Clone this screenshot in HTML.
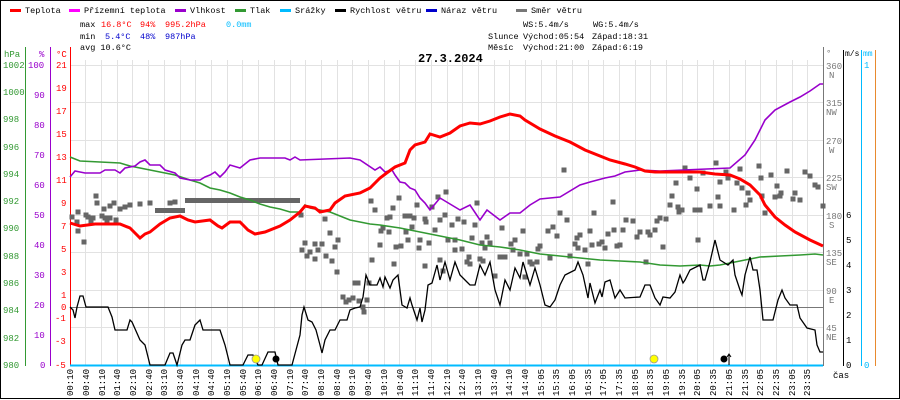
<!DOCTYPE html>
<html><head><meta charset="utf-8"><style>
body{margin:0;background:#fff}
svg{display:block;font-family:"Liberation Mono",monospace}
</style></head><body>
<svg width="900" height="400" viewBox="0 0 900 400" xmlns="http://www.w3.org/2000/svg">
<rect x="0.5" y="0.5" width="899" height="398" fill="#fff" stroke="#000"/>
<g stroke="#e2e2e2" stroke-width="1">
<path d="M70 65.5H823M70 102.5H823M70 140.5H823M70 177.5H823M70 215.5H823M70 252.5H823M70 290.5H823M70 327.5H823"/>
<path d="M85.5 60V366M101.5 60V366M117.5 60V366M132.5 60V366M148.5 60V366M164.5 60V366M180.5 60V366M195.5 60V366M211.5 60V366M227.5 60V366M242.5 60V366M258.5 60V366M274.5 60V366M290.5 60V366M305.5 60V366M321.5 60V366M337.5 60V366M352.5 60V366M368.5 60V366M384.5 60V366M399.5 60V366M415.5 60V366M431.5 60V366M447.5 60V366M462.5 60V366M478.5 60V366M494.5 60V366M509.5 60V366M525.5 60V366M541.5 60V366M556.5 60V366M572.5 60V366M588.5 60V366M603.5 60V366M619.5 60V366M635.5 60V366M650.5 60V366M666.5 60V366M682.5 60V366M697.5 60V366M713.5 60V366M729.5 60V366M745.5 60V366M760.5 60V366M776.5 60V366M792.5 60V366M807.5 60V366"/>
</g>
<line x1="70" y1="307.5" x2="823" y2="307.5" stroke="#777"/>
<g font-size="8.5" fill="#000">
<rect x="10" y="9" width="11" height="3" fill="#f00"/><text x="25" y="13">Teplota</text>
<rect x="69" y="9" width="11" height="3" fill="#f0f"/><text x="84" y="13">Přízemní teplota</text>
<rect x="175" y="9" width="11" height="3" fill="#90c"/><text x="190" y="13">Vlhkost</text>
<rect x="235" y="9" width="11" height="3" fill="#393"/><text x="250" y="13">Tlak</text>
<rect x="280" y="9" width="11" height="3" fill="#0bf"/><text x="295" y="13">Srážky</text>
<rect x="335" y="9" width="11" height="3" fill="#000"/><text x="350" y="13">Rychlost větru</text>
<rect x="426" y="9" width="11" height="3" fill="#00c"/><text x="441" y="13">Náraz větru</text>
<rect x="516" y="9" width="11" height="3" fill="#777"/><text x="531" y="13">Směr větru</text>
<text x="80" y="27">max</text><text x="101" y="27" fill="#f00">16.8°C</text><text x="140" y="27" fill="#f00">94%</text><text x="165" y="27" fill="#f00">995.2hPa</text><text x="226" y="27" fill="#0bf">0.0mm</text>
<text x="80" y="39">min</text><text x="105" y="39" fill="#00c">5.4°C</text><text x="140" y="39" fill="#00c">48%</text><text x="165" y="39" fill="#00c">987hPa</text>
<text x="80" y="50">avg 10.6°C</text>
<text x="523" y="27">WS:5.4m/s</text><text x="593" y="27">WG:5.4m/s</text>
<text x="488" y="39">Slunce</text><text x="523" y="39">Východ:05:54</text><text x="592" y="39">Západ:18:31</text>
<text x="488" y="50">Měsíc</text><text x="523" y="50">Východ:21:00</text><text x="592" y="50">Západ:6:19</text>
</g>
<text x="418" y="62" font-size="12" font-weight="bold">27.3.2024</text>
<g font-size="9">
<line x1="25.5" y1="47" x2="25.5" y2="366" stroke="#393"/>
<line x1="50.5" y1="47" x2="50.5" y2="366" stroke="#90c"/>
<line x1="70.5" y1="47" x2="70.5" y2="366" stroke="#f00"/>
<g fill="#393"><text x="4" y="57">hPa</text>
<text x="3" y="68">1002</text><text x="3" y="95">1000</text><text x="3" y="122">998</text><text x="3" y="150">996</text><text x="3" y="177">994</text><text x="3" y="204">992</text><text x="3" y="231">990</text><text x="3" y="259">988</text><text x="3" y="286">986</text><text x="3" y="313">984</text><text x="3" y="341">982</text><text x="3" y="368">980</text></g>
<g fill="#90c"><text x="39" y="57">%</text>
<text x="28" y="68">100</text><text x="34" y="98">90</text><text x="34" y="128">80</text><text x="34" y="158">70</text><text x="34" y="188">60</text><text x="34" y="218">50</text><text x="34" y="248">40</text><text x="34" y="278">30</text><text x="34" y="308">20</text><text x="34" y="338">10</text><text x="40" y="368">0</text></g>
<g fill="#f00"><text x="56" y="57">°C</text>
<text x="56" y="68">21</text><text x="56" y="91">19</text><text x="56" y="114">17</text><text x="56" y="137">15</text><text x="56" y="160">13</text><text x="56" y="183">11</text><text x="61" y="206">9</text><text x="61" y="229">7</text><text x="61" y="252">5</text><text x="61" y="275">3</text><text x="61" y="298">1</text><text x="61" y="310">0</text><text x="55" y="321">-1</text><text x="55" y="344">-3</text><text x="55" y="368">-5</text></g>
</g>
<g font-size="9">
<line x1="823.5" y1="47" x2="823.5" y2="366" stroke="#777"/>
<line x1="843.5" y1="50" x2="843.5" y2="366" stroke="#000"/>
<line x1="861.5" y1="50" x2="861.5" y2="366" stroke="#0bf"/>
<line x1="875.5" y1="50" x2="875.5" y2="366" stroke="#e88a2e"/>
<g fill="#777"><text x="826" y="56">°</text>
<text x="826" y="69">360</text><text x="829" y="78">N</text>
<text x="826" y="106">315</text><text x="826" y="115">NW</text>
<text x="826" y="144">270</text><text x="829" y="153">W</text>
<text x="826" y="181">225</text><text x="826" y="190">SW</text>
<text x="826" y="219">180</text><text x="829" y="228">S</text>
<text x="826" y="256">135</text><text x="826" y="265">SE</text>
<text x="826" y="294">90</text><text x="829" y="303">E</text>
<text x="826" y="331">45</text><text x="826" y="340">NE</text></g>
<g fill="#000"><text x="845" y="56" font-size="8">m/s</text>
<text x="846" y="218">6</text><text x="846" y="243">5</text><text x="846" y="268">4</text><text x="846" y="293">3</text><text x="846" y="318">2</text><text x="846" y="343">1</text><text x="846" y="368">0</text>
<text x="833" y="378">čas</text></g>
<g fill="#0bf"><text x="863" y="56" font-size="8">mm</text><text x="864" y="68">1</text><text x="864" y="368">0</text></g>
</g>
<line x1="70" y1="365.5" x2="823" y2="365.5" stroke="#0bf" stroke-width="2"/>
<g fill="#666">
<path d="M155 208h30v5h-30z M185 198h115v5h-115z"/>
</g>
<g fill="#666" id="sq"></g>
<polyline fill="none" stroke="#393" stroke-width="1.6" points="70,157 80,161 100,162 120,163 130,166 150,170 160,172 175,175 190,180 200,183 210,188 220,190 230,193 240,197 250,200 260,204 270,207 280,209 290,212 300,212 305,205 310,208 320,210 330,212 340,216 350,220 360,222 370,224 380,225 400,228 420,232 440,236 460,240 480,245 500,247 520,250 540,254 560,256 580,258 600,260 620,261 640,262 660,265 680,266 700,265 710,266 720,265 735,262 745,260 760,257 780,256 800,255 815,254 823,255"/>
<polyline fill="none" stroke="#90c" stroke-width="1.6" points="70,177 75,171 80,172 85,173 100,173 105,170 115,170 120,173 125,168 135,166 140,162 145,160 150,165 160,165 165,170 175,173 180,178 190,180 200,180 205,177 210,175 215,172 220,177 225,172 230,165 240,168 250,160 260,158 285,158 290,160 295,157 300,160 350,158 360,160 375,170 380,167 385,172 392,170 395,175 400,182 405,183 410,188 415,190 420,198 425,203 430,210 440,198 445,201 460,210 470,205 480,220 487,210 500,220 510,213 520,213 530,205 540,199 560,197 580,185 590,182 605,178 615,176 625,172 640,170 660,171 730,168 745,155 755,140 765,120 775,110 790,102 800,97 810,91 820,84 823,84"/>
<polyline fill="none" stroke="#f00" stroke-width="3" points="70,223 80,226 95,224 120,224 130,228 140,238 145,234 150,232 160,224 170,218 180,216 188,220 195,222 210,220 218,226 222,228 230,222 240,222 248,230 255,234 265,232 280,226 290,220 300,212 305,206 315,208 320,212 330,210 335,203 345,196 360,193 370,188 380,178 388,172 395,167 405,163 410,150 415,145 425,142 430,134 440,137 450,133 460,126 470,123 480,124 490,121 500,117 510,114 520,116 525,120 540,129 555,136 570,142 585,150 600,156 610,160 625,164 635,167 645,171 655,172 700,172 715,174 730,175 740,179 750,185 760,195 765,205 775,217 785,225 795,232 810,240 823,246"/>
<polyline fill="none" stroke="#000" stroke-width="1.3" points="70,307 73,310 75,318 77,307 80,296 83,296 86,307 108,307 112,317 115,330 127,330 130,320 132,322 140,340 145,345 150,365 165,365 170,353 173,353 177,365 182,345 185,340 190,340 195,325 200,320 203,330 220,330 225,345 230,365 243,365 248,355 253,355 258,365 262,365 268,352 275,352 278,365 292,365 300,335 302,315 304,307 308,320 312,322 316,330 320,345 322,353 325,340 330,330 335,330 340,320 347,320 350,310 355,308 360,307 363,297 366,275 370,285 377,285 380,278 383,287 385,277 390,288 393,280 398,275 402,305 407,308 410,298 412,305 417,320 420,308 422,322 425,310 428,285 432,283 437,265 440,280 445,262 450,280 455,262 460,275 467,282 470,285 475,285 480,265 485,275 490,262 495,290 500,305 505,280 510,290 515,268 520,278 523,262 527,275 530,285 535,268 540,285 545,305 550,307 555,300 560,285 565,275 575,270 578,262 583,275 588,298 590,283 595,303 600,290 602,297 605,282 610,280 615,298 620,290 625,298 640,297 645,285 650,285 655,298 660,305 663,297 670,298 675,292 680,275 683,283 685,280 690,270 700,265 703,280 705,280 710,262 715,240 720,260 728,265 733,260 735,275 740,290 742,295 745,275 750,257 753,270 757,270 760,290 763,320 773,320 778,300 782,290 785,298 790,305 797,305 800,318 807,328 815,330 817,345 820,352 823,352"/>
<circle cx="256" cy="359" r="4" fill="#ff0" stroke="#999" stroke-width="0.8"/>
<circle cx="654" cy="359" r="4" fill="#ff0" stroke="#999" stroke-width="0.8"/>
<circle cx="276" cy="359" r="3.5" fill="#000"/>
<circle cx="724" cy="359" r="3.5" fill="#000"/>
<path d="M729 365V355M727 357L729 354L731 357" stroke="#000" fill="none"/>
<g font-size="9" fill="#000">
<text transform="translate(73,396) rotate(-90)">00:10</text>
<text transform="translate(89,396) rotate(-90)">00:40</text>
<text transform="translate(105,396) rotate(-90)">01:10</text>
<text transform="translate(120,396) rotate(-90)">01:40</text>
<text transform="translate(136,396) rotate(-90)">02:10</text>
<text transform="translate(152,396) rotate(-90)">02:40</text>
<text transform="translate(167,396) rotate(-90)">03:10</text>
<text transform="translate(183,396) rotate(-90)">03:40</text>
<text transform="translate(199,396) rotate(-90)">04:10</text>
<text transform="translate(214,396) rotate(-90)">04:40</text>
<text transform="translate(230,396) rotate(-90)">05:10</text>
<text transform="translate(246,396) rotate(-90)">05:40</text>
<text transform="translate(261,396) rotate(-90)">06:10</text>
<text transform="translate(277,396) rotate(-90)">06:40</text>
<text transform="translate(293,396) rotate(-90)">07:10</text>
<text transform="translate(308,396) rotate(-90)">07:40</text>
<text transform="translate(324,396) rotate(-90)">08:10</text>
<text transform="translate(340,396) rotate(-90)">08:40</text>
<text transform="translate(355,396) rotate(-90)">09:10</text>
<text transform="translate(371,396) rotate(-90)">09:40</text>
<text transform="translate(387,396) rotate(-90)">10:10</text>
<text transform="translate(403,396) rotate(-90)">10:40</text>
<text transform="translate(418,396) rotate(-90)">11:10</text>
<text transform="translate(434,396) rotate(-90)">11:40</text>
<text transform="translate(450,396) rotate(-90)">12:10</text>
<text transform="translate(465,396) rotate(-90)">12:40</text>
<text transform="translate(481,396) rotate(-90)">13:10</text>
<text transform="translate(497,396) rotate(-90)">13:40</text>
<text transform="translate(512,396) rotate(-90)">14:10</text>
<text transform="translate(528,396) rotate(-90)">14:40</text>
<text transform="translate(544,396) rotate(-90)">15:05</text>
<text transform="translate(559,396) rotate(-90)">15:35</text>
<text transform="translate(575,396) rotate(-90)">16:05</text>
<text transform="translate(591,396) rotate(-90)">16:35</text>
<text transform="translate(606,396) rotate(-90)">17:05</text>
<text transform="translate(622,396) rotate(-90)">17:35</text>
<text transform="translate(638,396) rotate(-90)">18:05</text>
<text transform="translate(653,396) rotate(-90)">18:35</text>
<text transform="translate(669,396) rotate(-90)">19:05</text>
<text transform="translate(685,396) rotate(-90)">19:35</text>
<text transform="translate(700,396) rotate(-90)">20:05</text>
<text transform="translate(716,396) rotate(-90)">20:35</text>
<text transform="translate(732,396) rotate(-90)">21:05</text>
<text transform="translate(748,396) rotate(-90)">21:35</text>
<text transform="translate(763,396) rotate(-90)">22:05</text>
<text transform="translate(779,396) rotate(-90)">22:35</text>
<text transform="translate(795,396) rotate(-90)">23:05</text>
<text transform="translate(810,396) rotate(-90)">23:35</text>
</g>
</svg>
<script>
var p=[72,217,77,222,78,231,78,212,86,215,88,217,91,222,93,218,96,196,97,203,102,216,104,209,105,218,107,220,110,206,110,218,114,203,116,220,120,209,84,242,125,207,130,205,140,204,150,203,170,203,175,202,
301,215,302,250,305,243,307,256,310,252,315,244,315,259,318,250,322,244,325,219,326,256,330,233,332,261,335,247,337,272,338,240,343,297,346,302,349,300,353,298,355,283,358,283,359,301,363,307,364,312,367,300,369,283,371,201,372,260,375,210,380,245,381,231,383,228,387,218,389,232,390,217,393,208,394,264,396,247,399,198,401,246,405,216,406,232,408,240,410,216,412,227,414,218,417,205,419,248,420,240,425,219,425,266,426,222,429,243,432,207,435,230,438,197,440,220,446,192,448,240,
440,260,443,271,445,215,452,225,455,240,455,250,458,219,462,249,464,222,467,262,469,257,470,264,472,238,475,225,477,203,480,259,482,243,483,261,485,248,487,237,490,243,495,276,500,257,502,228,505,257,511,244,513,250,515,240,520,254,523,231,525,277,527,254,530,262,532,264,537,262,538,249,540,246,548,231,550,258,553,227,557,236,560,213,564,170,567,220,570,256,575,244,577,238,578,248,580,235,585,250,588,264,590,231,592,245,594,213,599,244,602,242,605,248,608,234,613,202,614,230,617,246,620,245,623,230,626,220,633,221,637,237,640,232,646,262,648,232,650,235,655,230,657,221,660,218,663,247,666,219,670,205,672,196,676,183,678,207,679,212,682,210,685,168,690,178,695,210,697,189,698,240,700,210,703,173,710,206,716,163,718,197,720,206,720,182,726,172,728,178,734,210,737,183,740,169,742,188,746,205,748,193,750,200,759,166,761,178,762,196,765,213,771,175,775,197,777,186,780,196,781,193,787,171,793,199,795,193,800,200,805,172,810,176,815,185,818,187,823,206];
var g=document.getElementById('sq'),s='';
for(var i=0;i<p.length;i+=2)s+='<rect x="'+(p[i]-2.5)+'" y="'+(p[i+1]-2.5)+'" width="5" height="5"/>';
g.innerHTML=s;
</script>
</body></html>
